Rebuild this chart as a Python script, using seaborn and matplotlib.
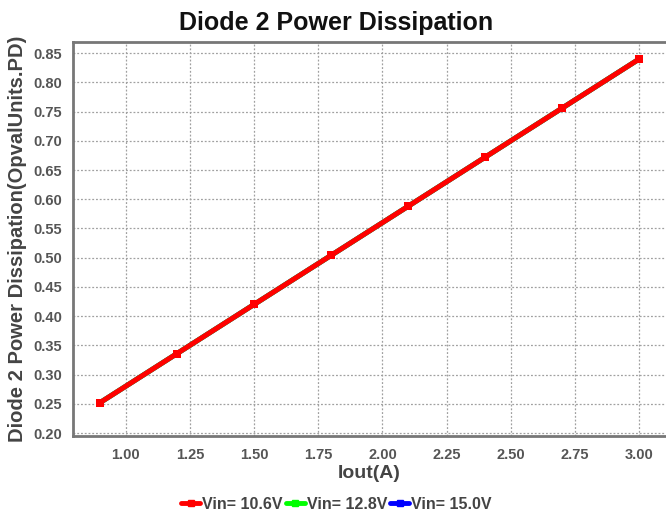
import matplotlib
matplotlib.use("Agg")
import matplotlib.pyplot as plt
import seaborn as sns
import pandas as pd

# dados
iout = [0.9, 1.2, 1.5, 1.8, 2.1, 2.4, 2.7, 3.0]
pd_106 = [0.252, 0.336, 0.420, 0.504, 0.588, 0.672, 0.756, 0.840]
pd_128 = [0.252, 0.336, 0.420, 0.504, 0.588, 0.672, 0.756, 0.840]
pd_150 = [0.252, 0.336, 0.420, 0.504, 0.588, 0.672, 0.756, 0.840]
series = ["Vin= 10.6V", "Vin= 12.8V", "Vin= 15.0V"]
cores = {"Vin= 10.6V": "#ff0000", "Vin= 12.8V": "#00ff00", "Vin= 15.0V": "#0000ff"}
xticks = [1.00, 1.25, 1.50, 1.75, 2.00, 2.25, 2.50, 2.75, 3.00]
yticks = [0.20, 0.25, 0.30, 0.35, 0.40, 0.45, 0.50, 0.55, 0.60, 0.65, 0.70, 0.75, 0.80, 0.85]

df = pd.DataFrame({
    "Iout": iout * 3,
    "P": pd_106 + pd_128 + pd_150,
    "Vin": [series[0]] * 8 + [series[1]] * 8 + [series[2]] * 8,
})

sns.set_style("white")
plt.rcParams["font.family"] = ["Liberation Sans", "DejaVu Sans"]

fig = plt.figure(figsize=(6.66, 5.11), dpi=100)
ax = fig.add_axes([0.1096, 0.1468, 0.8904, 0.771])

# desenha azul e verde primeiro, vermelho por cima
for s in [series[2], series[1], series[0]]:
    sub = df[df["Vin"] == s]
    sns.lineplot(data=sub, x="Iout", y="P", color=cores[s], linewidth=3.6,
                 marker="s", markersize=6, markeredgewidth=0, ax=ax,
                 label=s, legend=False)

ax.set_xlim(0.795, 3.104)
ax.set_ylim(0.195, 0.869)
ax.set_xticks(xticks)
ax.set_yticks(yticks)
ax.set_xticklabels([f"{v:.2f}" for v in xticks])
ax.set_yticklabels([f"{v:.2f}" for v in yticks])
ax.tick_params(axis="both", length=0, labelsize=10.5, labelcolor="#555555", pad=8)
for lab in ax.get_xticklabels() + ax.get_yticklabels():
    lab.set_fontweight("bold")
ax.tick_params(axis="x", pad=9)

ax.grid(True, linestyle=(0, (1.5, 1.5)), color="#a0a0a0", linewidth=0.9)
for side in ["left", "bottom", "top"]:
    ax.spines[side].set_color("#777777")
    ax.spines[side].set_linewidth(2)
ax.spines["right"].set_visible(False)

ax.set_xlabel("Iout(A)", fontsize=14, fontweight="bold", color="#444444", labelpad=2)
ax.set_ylabel("Diode 2 Power Dissipation(OpvalUnits.PD)", fontsize=14.5,
              fontweight="bold", color="#444444", labelpad=4)
fig.suptitle("Diode 2 Power Dissipation", fontsize=18, fontweight="bold",
             x=0.505, y=0.978, color="#111111")

handles = [plt.Line2D([], [], color=cores[s], linewidth=3.5, marker="s", markersize=5)
           for s in series]
leg = fig.legend(handles, series, loc="lower center", bbox_to_anchor=(0.505, -0.03),
                 ncol=3, frameon=False, handlelength=1.2, handletextpad=0.1,
                 columnspacing=0.2, prop={"weight": "bold", "size": 11.5})
for t in leg.get_texts():
    t.set_color("#444444")

fig.savefig("out.png", dpi=100)
